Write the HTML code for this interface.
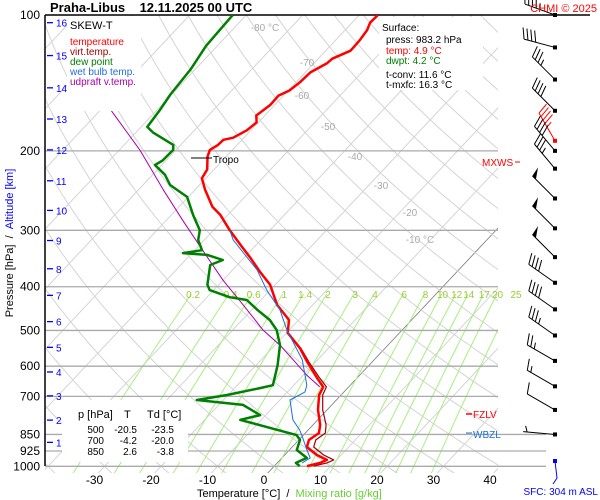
<!DOCTYPE html>
<html><head><meta charset="utf-8"><style>
body{margin:0;background:#fff;}
svg{display:block;font-family:"Liberation Sans",sans-serif;}
</style></head><body>
<svg id="c" width="600" height="500" viewBox="0 0 600 500"></svg>
<script>
// ---- data ----
const tempP=[100,104,108,114,120,125,128,134,141,147,151,158,167,173,180,187,189,194,199,206,220,230,244,266,277,300,323,345,371,396,439,474,506,547,587,637,667,695,750,810,844,874,906,944,968,983,999];
const tempT=[-56.7,-56.8,-56.1,-55.7,-55.6,-57.5,-57.7,-59.1,-59.3,-59.8,-60.9,-60.8,-61.5,-60.3,-60.7,-61.9,-63.3,-63.4,-64.0,-63.3,-61.2,-60.7,-58.2,-54.1,-51.4,-47.1,-42.8,-38.9,-34.8,-30.9,-26.3,-21.7,-19.8,-15.1,-11.5,-7.1,-4.5,-3.9,-1.6,1.3,2.4,1.8,2.6,5.7,8.3,7.6,5.8];
const dewP=[100,108,117,132,150,162,177,182,194,199,210,215,226,238,253,277,300,315,332,337,340,349,358,396,407,422,428,450,474,499,539,597,661,671,695,713,731,770,789,822,853,874,920,958,983,999];
const dewT=[-82.4,-82.2,-82.0,-80.8,-80.2,-79.5,-78.9,-77.0,-71.3,-70.5,-70.6,-71.2,-67.8,-65.2,-60.2,-56.2,-52.4,-51.1,-48.7,-51.6,-47.0,-43.4,-44.8,-42.0,-40.7,-36.0,-32.5,-29.0,-25.1,-22.2,-19.1,-16.2,-13.7,-15.5,-20.2,-24.7,-15.7,-11.0,-13.7,-7.1,-1.2,0.2,1.3,4.4,3.3,4.5];
const wetP=[300,315,340,367,407,450,499,539,581,661,684,713,789,831,862,920,958,983];
const wetT=[-47.1,-44.9,-40.3,-35.7,-30.6,-25.0,-20.4,-16.5,-12.7,-7.7,-6.9,-8.2,-4.4,-1.5,0.2,3.1,5.0,4.4];
const parP=[100,162,199,244,285,332,387,439,499,539,581,628,667];
const parT=[-110,-88.3,-76.4,-65.6,-57.1,-48.6,-40.0,-32.3,-24.6,-19.1,-14.3,-9.4,-5.1];
const pLevels=[100,200,300,400,500,600,700,850,925,1000];
const xTicks=[-30,-20,-10,0,10,20,30,40];
const mixRatios=[0.2,0.4,0.6,1,1.4,2,3,4,6,8,10,12,14,17,20,25];
const mixLabels=["0.2","0.4","0.6","1","1.4","2","3","4","6","8","10","12","14","17","20","25"];
const altKm=[1,2,3,4,5,6,7,8,9,10,11,12,13,14,15,16];
const altP=[885,790,698,618,545,478,418,365,316,271,233,199,170,145,123,104];
const windP=[100,118,139,163,190,200,219,255,297,344,392,449,513,584,665,750,850];
const windDir=[290,285,315,315,330,320,320,315,315,315,305,305,305,300,300,300,275];
const windSpd=[45,40,35,40,45,40,35,50,50,50,40,40,35,25,15,10,5];

// ---- axes ----
const NS="http://www.w3.org/2000/svg";
const svg=document.getElementById('c');
const X0=264,KX=5.65,SK=0.94,YR=477;
function yP(p){return 15+196*Math.log(p/100);}
function xT(t,y){return X0+KX*t+SK*(YR-y);}
function el(tag,attrs,parent){const e=document.createElementNS(NS,tag);for(const k in attrs)e.setAttribute(k,attrs[k]);(parent||svg).appendChild(e);return e;}
function txt(s,x,y,attrs,parent){const e=el('text',Object.assign({x:x,y:y},attrs),parent);e.textContent=s;return e;}

const defs=el('defs',{});
const cp=el('clipPath',{id:'pc'},defs);
el('rect',{x:45,y:15,width:453,height:458},cp);
const grid=el('g',{'clip-path':'url(#pc)'});



// isotherms
for(let t=-130;t<=50;t+=10){
  const l=el('line',{x1:xT(t,480),y1:480,x2:xT(t,15),y2:15,stroke:t===0?'#777':'#d4d4d4','stroke-width':t===0?0.8:1},grid);
  
  
}
// dry adiabats
for(let th=-40;th<=230;th+=10){
  let d='';
  for(let p=1050;p>=100;p-=10){const T=(th+273.15)*Math.pow(p/1000,0.286)-273.15;const y=yP(p);d+=(d?'L':'M')+xT(T,y).toFixed(1)+','+y.toFixed(1);}
  const a=el('path',{d:d,fill:'none',stroke:'#d4d4d4','stroke-width':1},grid);
  
  
}
// mixing ratio lines
function tdFromW(w,p){const e=w*p/(622+w);const L=Math.log(e/6.112);return 243.5*L/(17.67-L);}
mixRatios.forEach((w,i)=>{
  let d='';
  for(let p=1060;p>=405;p-=15){const y=yP(p);d+=(d?'L':'M')+xT(tdFromW(w,p),y).toFixed(1)+','+y.toFixed(1);}
  const m=el('path',{d:d,fill:'none',stroke:'#a8ee80','stroke-width':1},grid);
  
  
});
mixRatios.forEach((w,i)=>{
  const y=yP(398);
  const t=txt(mixLabels[i],xT(tdFromW(w,400),290),298,{'font-size':10,fill:'#99cc33','text-anchor':'middle'});
  
  
});
// pressure lines
pLevels.forEach(p=>{
  const y=yP(p);
  const right=p===100?590:(p>=850?546:498);
  const l=el('line',{x1:45,y1:y,x2:right,y2:y,stroke:p===100?'#000':'#aaa','stroke-width':p===100?1.5:1.3});
  
  
  const t=txt(String(p),40,y+4,{'font-size':12,'text-anchor':'end',fill:'#000'});
  
  
});
// isotherm labels
[["-80 °C",265,31],["-70",307,66],["-60",302,99],["-50",328,130],["-40",355,160],["-30",381,189],["-20",410,216],["-10 °C",420,243]].forEach(a=>{
  const t=txt(a[0],a[1],a[2],{'font-size':10,fill:'#aaa','text-anchor':'middle'});
  
  
});
// left axis
const ax=el('line',{x1:45,y1:15,x2:45,y2:466,stroke:'#000','stroke-width':1.5});


altKm.forEach((k,i)=>{
  const y=yP(altP[i]);
  const tk=el('line',{x1:47,y1:y,x2:53,y2:y,stroke:'#00f','stroke-width':1.3});
  
  
  const t=txt(String(k),56,y+4,{'font-size':10,fill:'#00f'});
  
  
});
xTicks.forEach(t=>{
  const e=txt(String(t),X0+KX*t,484,{'font-size':12,'text-anchor':'middle',fill:'#000'});
  
  
});

// ---- series ----
const series=el('g',{'clip-path':'url(#pc)'});
function line(P,T,color,w,name,dt){
  let d='';
  P.forEach((p,i)=>{const y=yP(p);d+=(i?'L':'M')+xT(T[i]+(dt?dt(p):0),y).toFixed(1)+','+y.toFixed(1);});
  const e=el('path',{d:d,fill:'none',stroke:color,'stroke-width':w,'stroke-linejoin':'round'},series);
  
  
}
line(tempP,tempT,'#a00000',1.2,'virtual-temperature-line',p=>p>500?Math.min(1.2,(p-500)/300):0);
line(parP,parT,'#aa00aa',1,'updraft-virtual-temperature-line');
line(tempP,tempT,'#f00',2.5,'temperature-line');
line(wetP,wetT,'#1e6fe0',1,'wet-bulb-line');
line(dewP,dewT,'#008000',2.5,'dew-point-line');

// ---- wind barbs ----
const wb=el('g',{});


windP.forEach((p,i)=>{
  const y=yP(p),x=555;
  const col=i===4?'#f00':'#000';
  const r=windDir[i]*Math.PI/180;
  const ux=Math.sin(r),uy=-Math.cos(r);
  const L=32,ex=x+ux*L,ey=y+uy*L;
  const px=-uy,py=ux;
  const g=el('g',{},wb);
  
  
  el('line',{x1:x,y1:y,x2:ex,y2:ey,stroke:col,'stroke-width':1},g);
  el('rect',{x:x-2,y:y-2,width:4,height:4,fill:col},g);
  let s=windSpd[i],pos=0;
  while(s>=50){const bx=ex-ux*pos,by=ey-uy*pos;el('polygon',{points:`${bx},${by} ${bx+px*10+ux*2},${by+py*10+uy*2} ${bx-ux*5},${by-uy*5}`,fill:col},g);pos+=6;s-=50;}
  while(s>=10){const bx=ex-ux*pos,by=ey-uy*pos;el('line',{x1:bx,y1:by,x2:bx+px*11+ux*4,y2:by+py*11+uy*4,stroke:col,'stroke-width':1},g);pos+=4;s-=10;}
  if(s>=5){if(pos===0)pos=4;const bx=ex-ux*pos,by=ey-uy*pos;el('line',{x1:bx,y1:by,x2:bx+px*6+ux*2,y2:by+py*6+uy*2,stroke:col,'stroke-width':1},g);}
});
const sfc=el('g',{});


el('rect',{x:553,y:459,width:4,height:4,fill:'#00f'},sfc);
el('polyline',{points:'555,461 557,478 553,484',fill:'none',stroke:'#00f','stroke-width':1},sfc);
</script>
<svg width="0" height="0"></svg>
<div style="position:absolute;left:0;top:0;width:600px;height:500px;pointer-events:none;font-family:'Liberation Sans',sans-serif;">
</div>
<script>
// static annotations
const S=document.getElementById('c');
function add(html){S.insertAdjacentHTML('beforeend',html);}
add('<text x="50" y="12" font-size="13" font-weight="bold">Praha-Libus&#160;&#160;&#160;&#160;12.11.2025 00 UTC</text>');
add('<text x="597" y="12" font-size="11" fill="#f00" text-anchor="end">CHMI © 2025</text>');
add('<g><rect x="67" y="16" width="74" height="95" fill="#fff"/>'+
'<text x="70" y="29" font-size="11">SKEW-T</text>'+
'<text x="70" y="45" font-size="10" fill="#f00">temperature</text>'+
'<text x="70" y="55" font-size="10" fill="#a00000">virt.temp.</text>'+
'<text x="70" y="65" font-size="10" fill="#008000">dew point</text>'+
'<text x="70" y="75" font-size="10" fill="#1e6fe0">wet bulb temp.</text>'+
'<text x="70" y="85" font-size="10" fill="#aa00aa">udpraft v.temp.</text></g>');
add('<g><rect x="379" y="17" width="104" height="73" fill="#fff"/>'+
'<text x="382" y="31" font-size="10">Surface:</text>'+
'<text x="386" y="43" font-size="10">press: 983.2 hPa</text>'+
'<text x="386" y="54" font-size="10" fill="#f00">temp: 4.9 °C</text>'+
'<text x="386" y="64" font-size="10" fill="#008000">dwpt: 4.2 °C</text>'+
'<text x="386" y="78" font-size="10">t-conv: 11.6 °C</text>'+
'<text x="386" y="88" font-size="10">t-mxfc: 16.3 °C</text></g>');
add('<g><rect x="62" y="400" width="126" height="62" fill="#fff"/>'+
'<text x="78" y="418" font-size="11">p [hPa]</text><text x="124" y="418" font-size="11">T</text><text x="147" y="418" font-size="11">Td [°C]</text>'+
'<text x="104" y="433" font-size="10" text-anchor="end">500</text><text x="137" y="433" font-size="10" text-anchor="end">-20.5</text><text x="174" y="433" font-size="10" text-anchor="end">-23.5</text>'+
'<text x="104" y="444" font-size="10" text-anchor="end">700</text><text x="137" y="444" font-size="10" text-anchor="end">-4.2</text><text x="174" y="444" font-size="10" text-anchor="end">-20.0</text>'+
'<text x="104" y="455" font-size="10" text-anchor="end">850</text><text x="137" y="455" font-size="10" text-anchor="end">2.6</text><text x="174" y="455" font-size="10" text-anchor="end">-3.8</text></g>');
add('<g><line x1="191" y1="158" x2="212" y2="158" stroke="#000"/><text x="213" y="163" font-size="10">Tropo</text></g>');
add('<g><text x="482" y="166" font-size="10" fill="#f00">MXWS</text><line x1="515" y1="162" x2="520" y2="162" stroke="#f00"/></g>');
add('<g><line x1="466" y1="414" x2="472" y2="414" stroke="#f00" stroke-width="1.5"/><text x="473" y="418" font-size="10" fill="#f00">FZLV</text></g>');
add('<g><line x1="466" y1="433" x2="472" y2="433" stroke="#1e6fe0"/><text x="473" y="438" font-size="10" fill="#1e6fe0">WBZL</text></g>');
add('<text x="598" y="495" font-size="10" fill="#00f" text-anchor="end">SFC: 304 m ASL</text>');
add('<text x="197" y="497" font-size="11">Temperature [°C]&#160;&#160;/&#160;&#160;<tspan fill="#66cc33">Mixing ratio [g/kg]</tspan></text>');
add('<text transform="translate(13,243) rotate(-90)" font-size="11" text-anchor="middle">Pressure [hPa]&#160;&#160;/&#160;&#160;<tspan fill="#00f">Altitude [km]</tspan></text>');
</script>
</body></html>
